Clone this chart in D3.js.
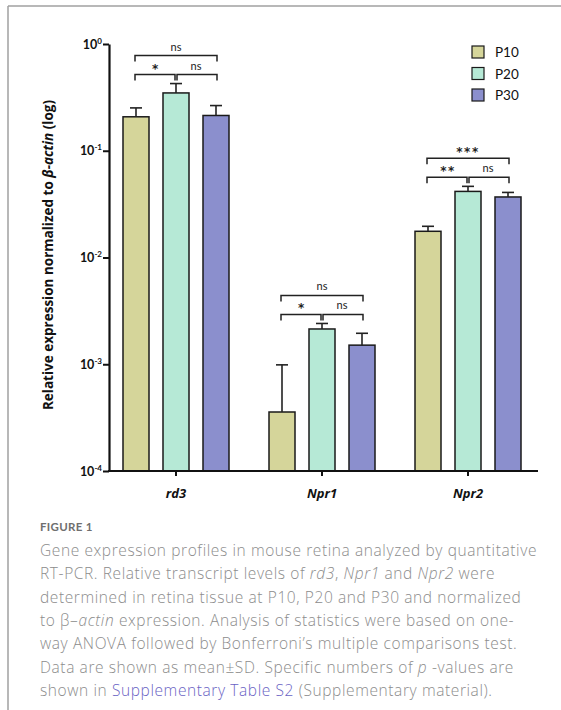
<!DOCTYPE html>
<html>
<head>
<meta charset="utf-8">
<script src="https://cdn.jsdelivr.net/npm/d3@7"></script>
<style>
  html, body { margin: 0; padding: 0; background: #fff; }
  svg { display: block; }
</style>
</head>
<body>
<svg id="fig" width="561" height="710"></svg>
<script>
// Genes (x groups) and ages (bar series)
const genes = ["rd3", "Npr1", "Npr2"];
const ages = ["P10", "P20", "P30"];

// Relative expression (mean) per gene, one array per age
const p10Mean = [0.208, 3.57e-4, 0.0176];
const p20Mean = [0.348, 2.14e-3, 0.0416];
const p30Mean = [0.214, 1.51e-3, 0.0369];

// Standard deviations per gene, one array per age
const p10SD = [0.044, 6.3e-4, 0.0020];
const p20SD = [0.078, 2.7e-4, 0.0048];
const p30SD = [0.051, 4.4e-4, 0.0038];

// Significance per gene: [P10 vs P20, P20 vs P30, P10 vs P30]
const sigP10P20 = ["*", "*", "**"];
const sigP20P30 = ["ns", "ns", "ns"];
const sigP10P30 = ["ns", "ns", "***"];

// Y axis ticks (decades) and their exponent labels
const yTicks = [1, 0.1, 0.01, 0.001, 0.0001];
const yTickExp = ["0", "-1", "-2", "-3", "-4"];

const colors = ["#d5d59a", "#b6e9d6", "#8b8fcd"];

const svg = d3.select("#fig");
const chartFont = "Lato, 'Open Sans', sans-serif";
const titleFont = "'Open Sans', Lato, sans-serif";

// Page frame lines (top and left)
svg.append("line").attr("x1", 8).attr("x2", 561).attr("y1", 6).attr("y2", 6)
  .attr("stroke", "#a0a0a0").attr("stroke-width", 1.5);
svg.append("line").attr("x1", 8).attr("x2", 8).attr("y1", 6).attr("y2", 710)
  .attr("stroke", "#a0a0a0").attr("stroke-width", 1.5);

// Scales
const axisX = 109, axisEndX = 538;
const y = d3.scaleLog().domain([1e-4, 1]).range([471, 44]);
const x0 = d3.scaleBand().domain(genes).range([103, 541]).padding(0);
const x1 = d3.scaleBand().domain(ages).range([20, 126]).paddingInner(0.35).paddingOuter(0);
const color = d3.scaleOrdinal().domain(ages).range(colors);

const means = [p10Mean, p20Mean, p30Mean];
const sds = [p10SD, p20SD, p30SD];
const rows = [];
genes.forEach((g, gi) => {
  ages.forEach((a, ai) => {
    rows.push({ gene: g, age: a, mean: means[ai][gi], sd: sds[ai][gi] });
  });
});

const g = svg.append("g");

// Bars
g.selectAll("rect.bar").data(rows).join("rect")
  .attr("class", "bar")
  .attr("x", d => x0(d.gene) + x1(d.age))
  .attr("width", x1.bandwidth())
  .attr("y", d => y(d.mean))
  .attr("height", d => y(1e-4) - y(d.mean))
  .attr("fill", d => color(d.age))
  .attr("stroke", "#1a1a1a").attr("stroke-width", 1.5);

// Error bars (upper half only)
const cx = d => x0(d.gene) + x1(d.age) + x1.bandwidth() / 2;
g.selectAll("line.err").data(rows).join("line")
  .attr("class", "err")
  .attr("x1", cx).attr("x2", cx)
  .attr("y1", d => y(d.mean)).attr("y2", d => y(d.mean + d.sd))
  .attr("stroke", "#222").attr("stroke-width", 1.6);
g.selectAll("line.cap").data(rows).join("line")
  .attr("class", "cap")
  .attr("x1", d => cx(d) - 6).attr("x2", d => cx(d) + 6)
  .attr("y1", d => y(d.mean + d.sd)).attr("y2", d => y(d.mean + d.sd))
  .attr("stroke", "#222").attr("stroke-width", 1.6);

// Y axis
const yAxis = svg.append("g").attr("transform", `translate(${axisX},0)`)
  .call(d3.axisLeft(y).tickValues(yTicks).tickSize(6).tickSizeOuter(0).tickFormat(() => ""));
yAxis.select(".domain").attr("stroke", "#111").attr("stroke-width", 2.2);
yAxis.selectAll(".tick line").attr("stroke", "#111").attr("stroke-width", 2);
yAxis.selectAll(".tick").each(function (d) {
  const t = d3.select(this).append("text")
    .attr("x", -7).attr("y", 4)
    .attr("text-anchor", "end")
    .attr("fill", "#111")
    .style("font-family", chartFont).style("font-weight", "bold").style("font-size", "12.5px");
  t.append("tspan").text("10");
  t.append("tspan").attr("dy", -5).style("font-size", "8px").text(yTickExp[yTicks.indexOf(d)]);
});

// X axis
svg.append("line").attr("x1", axisX - 1).attr("x2", axisEndX).attr("y1", y(1e-4)).attr("y2", y(1e-4))
  .attr("stroke", "#111").attr("stroke-width", 2.2);
const xAxis = svg.append("g").attr("transform", `translate(0,${y(1e-4)})`)
  .call(d3.axisBottom(x0).tickSize(5).tickSizeOuter(0));
xAxis.select(".domain").remove();
xAxis.selectAll(".tick line").attr("stroke", "#111").attr("stroke-width", 2);
xAxis.selectAll(".tick text")
  .attr("y", 27).attr("dy", 0).attr("fill", "#111")
  .style("font-family", titleFont).style("font-weight", "bold")
  .style("font-style", "italic").style("font-size", "13px");

// Y axis title
const yTitle = svg.append("text")
  .attr("transform", "translate(53,255) rotate(-90)")
  .attr("text-anchor", "middle").attr("fill", "#111")
  .style("font-family", titleFont).style("font-weight", "bold").style("font-size", "13.5px");
yTitle.append("tspan").text("Relative expression normalized to ");
yTitle.append("tspan").style("font-style", "italic").text("β-actin");
yTitle.append("tspan").text(" (log)");

// Significance brackets
genes.forEach((gene, gi) => {
  const groupRows = rows.filter(r => r.gene === gene);
  const c = groupRows.map(cx);
  const top = d3.min(groupRows, r => y(r.mean + r.sd));
  const low = top - 9;
  const high = low - 19;
  const tick = 6;
  const bracket = (xa, xb, yy) => {
    g.append("path")
      .attr("d", `M${xa},${yy + tick}V${yy}H${xb}V${yy + tick}`)
      .attr("fill", "none").attr("stroke", "#222").attr("stroke-width", 1.5);
  };
  bracket(c[0] - 1, c[1] - 1, low);
  bracket(c[1] + 1, c[2] + 1, low);
  bracket(c[0] - 1, c[2] + 1, high);
  const lab = (txt, xx, yy) => {
    const isStar = txt.indexOf("*") >= 0;
    const t = g.append("text").attr("x", xx).attr("text-anchor", "middle").attr("fill", "#222");
    if (isStar) {
      t.attr("y", yy + 2)
        .style("font-family", "'DejaVu Sans', sans-serif").style("font-weight", "bold")
        .style("font-size", "12px").style("letter-spacing", "1.5px");
    } else {
      t.attr("y", yy - 1)
        .style("font-family", chartFont).style("font-size", "11px");
    }
    t.text(txt);
  };
  lab(sigP10P20[gi], (c[0] + c[1]) / 2, low - 4);
  lab(sigP20P30[gi], (c[1] + c[2]) / 2, low - 4);
  lab(sigP10P30[gi], (c[0] + c[2]) / 2, high - 4);
});

// Legend
const legend = svg.append("g").attr("transform", "translate(472,46)");
ages.forEach((a, i) => {
  const row = legend.append("g").attr("transform", `translate(0,${i * 21.5})`);
  row.append("rect").attr("width", 12).attr("height", 12)
    .attr("fill", color(a)).attr("stroke", "#1a1a1a").attr("stroke-width", 1.2);
  row.append("text").attr("x", 23).attr("y", 11).attr("fill", "#111")
    .style("font-family", chartFont).style("font-size", "13.5px").text(a);
});

// Caption
const capFont = "'Open Sans', Lato, sans-serif";
svg.append("text").attr("x", 40).attr("y", 531).attr("fill", "#6f6f6f")
  .style("font-family", "Lato, sans-serif").style("font-weight", "bold").style("font-size", "11.5px")
  .style("letter-spacing", "0.3px").text("FIGURE 1");

const capLines = [
  [["Gene expression profiles in mouse retina analyzed by quantitative", 0]],
  [["RT-PCR. Relative transcript levels of ", 0], ["rd3", 1], [", ", 0], ["Npr1", 1], [" and ", 0], ["Npr2", 1], [" were", 0]],
  [["determined in retina tissue at P10, P20 and P30 and normalized", 0]],
  [["to β\u2013", 0], ["actin", 1], [" expression. Analysis of statistics were based on one-", 0]],
  [["way ANOVA followed by Bonferroni\u2019s multiple comparisons test.", 0]],
  [["Data are shown as mean\u00b1SD. Specific numbers of ", 0], ["p", 1], [" -values are", 0]],
  [["shown in ", 0], ["Supplementary Table S2", 2], [" (Supplementary material).", 0]]
];
const cap = svg.append("g")
  .style("font-family", capFont).style("font-weight", "300").style("font-size", "15.5px")
  .style("letter-spacing", "0.6px");
capLines.forEach((parts, li) => {
  const t = cap.append("text").attr("x", 40).attr("y", 556 + li * 23.3).attr("fill", "#8c8c8c");
  parts.forEach(([s, k]) => {
    const ts = t.append("tspan").text(s);
    if (k === 1) ts.style("font-style", "italic");
    if (k === 2) ts.attr("fill", "#6a63c4");
  });
});
</script>
</body>
</html>
